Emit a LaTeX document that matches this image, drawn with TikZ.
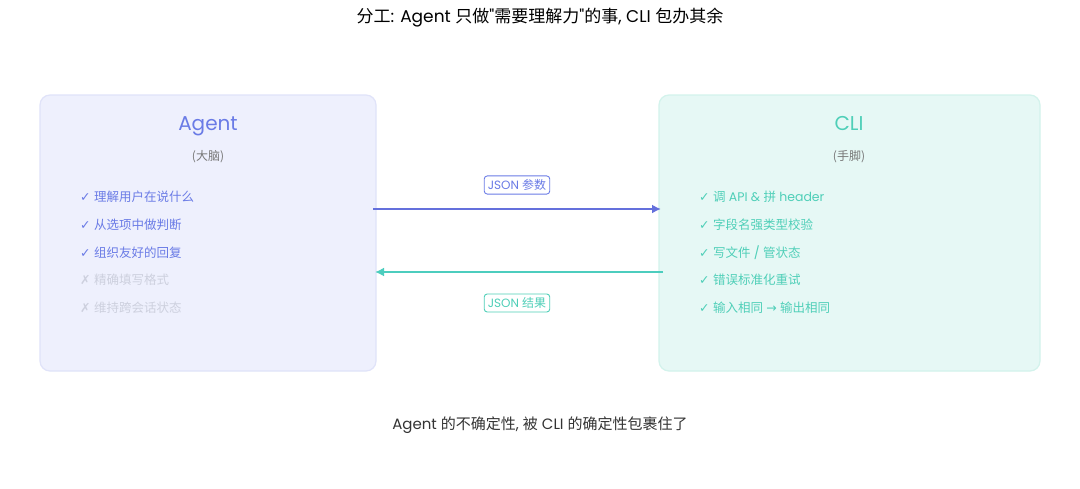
\documentclass[tikz,border=0pt]{standalone}
\usepackage{fontspec}
\setmainfont{Poppins}
\newfontfamily\cjk{Noto Sans CJK SC}
\newfontfamily\symf{DejaVu Sans}
\newfontfamily\qf{Poppins}[Ligatures=TeXOff]
\newcommand\zh[1]{{\cjk #1}}
\newcommand\ck{{\symf ✓}}
\newcommand\xk{{\symf ✗}}
\newcommand\ar{{\symf →}}
\newcommand\dq{{\qf "}}
\usetikzlibrary{arrows.meta}
\definecolor{agblue}{HTML}{6A7BE6}
\definecolor{agarrow}{HTML}{6470DC}
\definecolor{aggray}{HTML}{CDD0DE}
\definecolor{clteal}{HTML}{4FCFB8}
\definecolor{clarrow}{HTML}{4CCDBE}
\definecolor{subgray}{HTML}{777777}
\definecolor{agfill}{HTML}{EEF0FD}
\definecolor{agdraw}{HTML}{E0E3F9}
\definecolor{clfill}{HTML}{E6F8F5}
\definecolor{cldraw}{HTML}{D3F3EC}
\tikzset{
  panel/.style={rounded corners=10pt, line width=1.2pt},
  heading/.style={font=\fontsize{20}{24}\selectfont, anchor=base},
  sublabel/.style={font=\fontsize{12}{14}\selectfont, text=subgray, anchor=center},
  item/.style={font=\fontsize{12.5}{15}\selectfont, anchor=west, inner sep=0pt},
  tag/.style={font=\fontsize{12}{14}\selectfont, draw, rounded corners=3pt, line width=0.9pt, inner xsep=3.5pt, inner ysep=3.5pt, fill=white},
  flow/.style={line width=2.6pt, -{Latex[length=9pt,width=9pt]}},
}
\begin{document}
\begin{tikzpicture}[x=1pt,y=-1pt]
\useasboundingbox (0,0) rectangle (1080,488);
\fill[white] (0,0) rectangle (1080,488);
\node[font=\fontsize{17}{20}\selectfont, anchor=center] (title) at (540,18) {\zh{分工}: Agent \zh{只做}\dq\zh{需要理解力}\dq\zh{的事}, CLI \zh{包办其余}};
% panels
\draw[panel, fill=agfill, draw=agdraw] (40,95) rectangle (376,371);
\node (agentbox) at (208,233) {};
\draw[panel, fill=clfill, draw=cldraw] (659,95) rectangle (1040,371);
\node (clibox) at (849,233) {};
% headings
\node[heading, text=agblue] (agent) at (208,130) {Agent};
\node[sublabel] (brain) at (208,157) {\zh{(大脑)}};
\node[heading, text=clteal] (cli) at (849,130) {CLI};
\node[sublabel] (hands) at (849,157) {\zh{(手脚)}};
% agent items
\node[item, text=agblue] (a1) at (80,197) {\ck\ \zh{理解用户在说什么}};
\node[item, text=agblue] (a2) at (80,225) {\ck\ \zh{从选项中做判断}};
\node[item, text=agblue] (a3) at (80,253) {\ck\ \zh{组织友好的回复}};
\node[item, text=aggray] (a4) at (80,280) {\xk\ \zh{精确填写格式}};
\node[item, text=aggray] (a5) at (80,308) {\xk\ \zh{维持跨会话状态}};
% cli items
\node[item, text=clteal] (c1) at (699,197) {\ck\ \zh{调} API \& \zh{拼} header};
\node[item, text=clteal] (c2) at (699,225) {\ck\ \zh{字段名强类型校验}};
\node[item, text=clteal] (c3) at (699,253) {\ck\ \zh{写文件} / \zh{管状态}};
\node[item, text=clteal] (c4) at (699,280) {\ck\ \zh{错误标准化重试}};
\node[item, text=clteal] (c5) at (699,308) {\ck\ \zh{输入相同} \ar\ \zh{输出相同}};
% arrows
\coordinate (outL) at (373,209);
\coordinate (outR) at (661,209);
\coordinate (inR) at (663,272);
\coordinate (inL) at (375,272);
\draw[flow, agarrow] (outL) -- (outR);
\draw[flow, clarrow] (inR) -- (inL);
\node[tag, draw=agblue, text=agblue] (req) at (517,185) {JSON \zh{参数}};
\node[tag, draw=clteal, text=clteal] (res) at (517,303) {JSON \zh{结果}};
% caption
\node[font=\fontsize{15}{18}\selectfont, text=black!80, anchor=center] (cap) at (540,425) {Agent \zh{的不确定性}, \zh{被} CLI \zh{的确定性包裹住了}};
\end{tikzpicture}
\end{document}
